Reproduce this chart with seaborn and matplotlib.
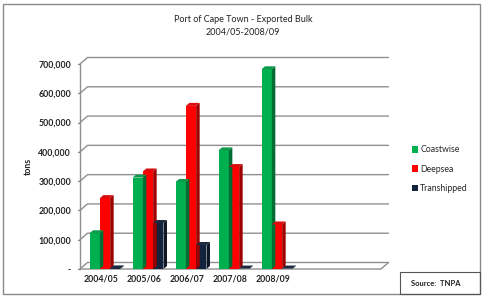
import numpy as np
import pandas as pd
import matplotlib
matplotlib.use("Agg")
import matplotlib.pyplot as plt
import seaborn as sns
from matplotlib.patches import Polygon, Rectangle, Patch

# ---- data ----
periods = ["2004/05", "2005/06", "2006/07", "2007/08", "2008/09"]
empty_slots = ["", " "]
series = ["Coastwise", "Deepsea", "Transhipped"]
coastwise = [122000, 312000, 297000, 405000, 682000]
deepsea = [242000, 333000, 557000, 348000, 152000]
transhipped = [2000, 157000, 82000, 1500, 1500]
yticks = [0, 100000, 200000, 300000, 400000, 500000, 600000, 700000]
colors = ["#00B050", "#FF0000", "#13233D"]

rows = []
for s, vals in zip(series, [coastwise, deepsea, transhipped]):
    for p, v in zip(periods, vals):
        rows.append({"period": p, "series": s, "tons": v})
df = pd.DataFrame(rows)
order = periods + empty_slots

sns.set_style("white")
plt.rcParams["font.family"] = ["Lato", "DejaVu Sans"]

fig = plt.figure(figsize=(4.83, 2.98), dpi=100)
W, H = 483, 298
ax = fig.add_axes([80 / W, 29 / H, 301 / W, 205 / H])

sns.barplot(data=df, x="period", y="tons", hue="series", order=order,
            hue_order=series, palette=colors, saturation=1, width=0.72,
            linewidth=0, legend=False, ax=ax, zorder=3)
ax.set_xlim(-0.5, len(order) - 0.5)
ax.set_ylim(0, 700000)
for sp in ax.spines.values():
    sp.set_visible(False)

ppx = 301 / len(order)
ppy = 205 / 700000
def off(px, py):
    return px / ppx, py / ppy

# back wall / floor grid (pseudo 3D)
gdx, gdy = off(7.5, 6.5)
x0, x1 = -0.5, len(order) - 0.5
gc = "#8F8F8F"
for v in yticks:
    ax.plot([x0, x0 + gdx, x1 + gdx], [v, v + gdy, v + gdy], color=gc,
            lw=1.0, clip_on=False, zorder=1)
ax.plot([x0, x1, x1 + gdx], [0, 0, gdy], color=gc, lw=1.0, clip_on=False, zorder=1)
ax.plot([x0, x0], [0, 700000], color=gc, lw=1.0, clip_on=False, zorder=1)
for v in yticks:
    ax.plot([x0 - 0.05, x0], [v, v], color=gc, lw=1.0, clip_on=False, zorder=1)

# shift bars to mid-depth and add 3D faces
sx, _ = off(3.5, 0)
bdx, bdy = off(3.5, 3.0)
for p in ax.patches:
    h = p.get_height()
    if not np.isfinite(h):
        continue
    p.set_x(p.get_x() + sx)
    x = p.get_x(); w = p.get_width()
    fc = np.array(p.get_facecolor()[:3])
    side = tuple(fc * 0.62)
    top = tuple(np.clip(fc * 0.8 + 0.05, 0, 1))
    ax.add_patch(Polygon([(x + w, 0), (x + w, h), (x + w + bdx, h + bdy), (x + w + bdx, bdy)],
                         closed=True, facecolor=side, edgecolor="none", zorder=3, clip_on=False))
    ax.add_patch(Polygon([(x, h), (x + w, h), (x + w + bdx, h + bdy), (x + bdx, h + bdy)],
                         closed=True, facecolor=top, edgecolor="none", zorder=3, clip_on=False))

ax.set_yticks(yticks)
ax.set_yticklabels(["-"] + [f"{v:,}" for v in yticks[1:]], fontsize=6.3, fontweight="bold",
                   color="#222222")
ax.set_xticks(range(len(order)))
ax.set_xticklabels(order, fontsize=6.3, fontweight="bold", color="#222222")
ax.tick_params(axis="y", length=0, pad=6.5)
ax.tick_params(axis="x", length=0, pad=4)
ax.set_xlabel("")
ax.set_ylabel("tons", fontsize=6.3, fontweight="bold", color="#222222")
ax.yaxis.set_label_coords(-(80 - 33) / 301, 0.5)
ax.grid(False)

# title
fig.text(243 / W, 1 - 20 / H, "Port of Cape Town - Exported Bulk", ha="center", va="center",
         fontsize=6.5, color="#222222")
fig.text(243 / W, 1 - 32 / H, "2004/05-2008/09", ha="center", va="center",
         fontsize=6.5, color="#222222")

# legend
handles = [Patch(facecolor=c, edgecolor="none") for c in colors]
fig.legend(handles, series, loc="upper left", bbox_to_anchor=(408 / W, 1 - 142 / H),
           frameon=False, fontsize=6.3, handlelength=0.7, handleheight=0.7,
           handletextpad=0.3, labelspacing=1.15, borderaxespad=0)

# outer border and source box
fig.add_artist(Rectangle((3 / W, 4 / H), 477 / W, 290 / H, transform=fig.transFigure,
                         fill=False, edgecolor="#8A8A8A", lw=1.0))
fig.add_artist(Rectangle((400 / W, 4 / H), 80 / W, 22 / H, transform=fig.transFigure,
                         fill=False, edgecolor="#555555", lw=0.8))
fig.text(411 / W, 1 - 284 / H, "Source:  TNPA", fontsize=5.5, fontweight="bold",
         va="center", ha="left", color="#222222")

fig.savefig("out.png", dpi=100)
